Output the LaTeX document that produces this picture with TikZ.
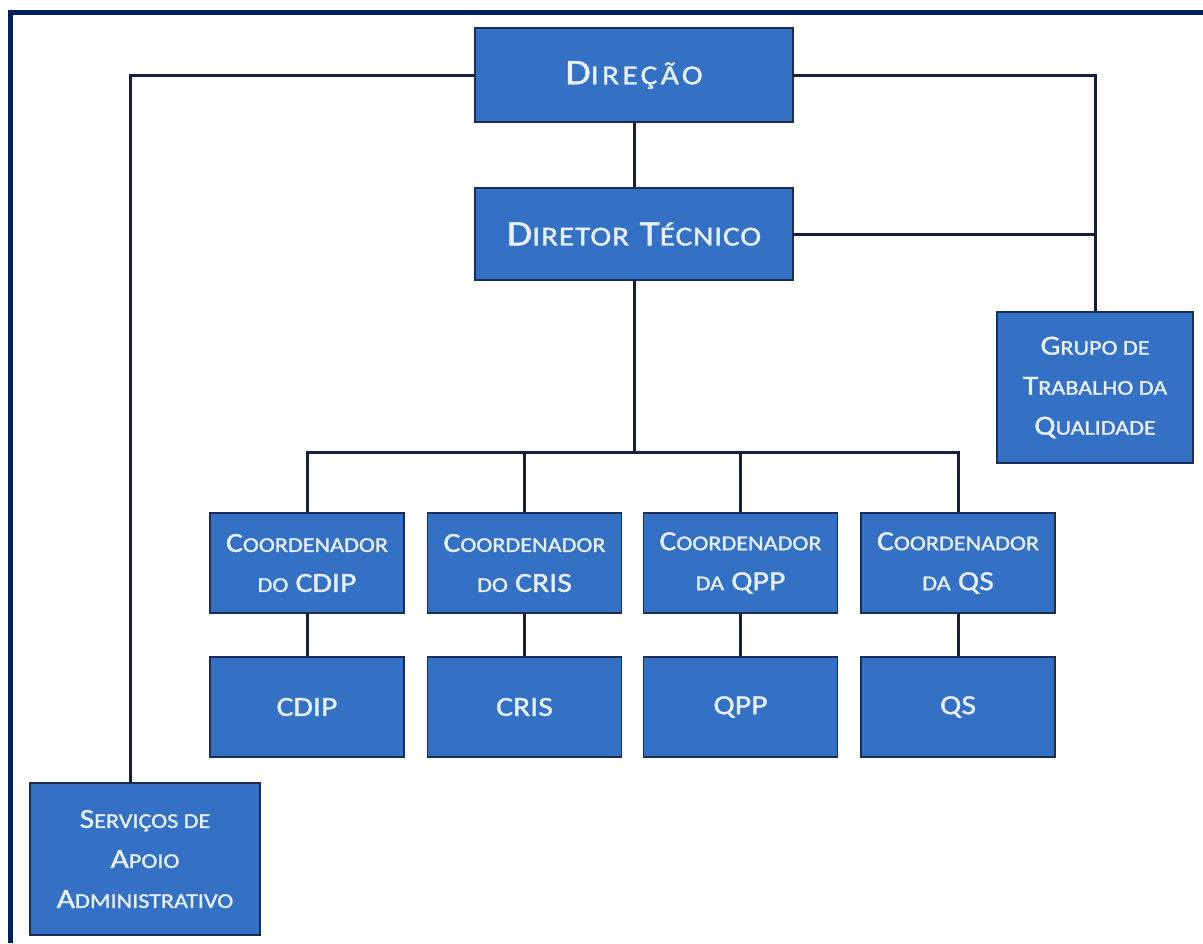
\documentclass[tikz,border=0pt]{standalone}
\usepackage{fontspec}
\setmainfont{Carlito}
\newfontfamily\fMain{Carlito}[FakeStretch=1.15,FakeBold=1.2]
\newfontfamily\fMainS{Carlito}[FakeStretch=1.15,FakeBold=1.2,Scale=0.76]
\newfontfamily\fTop{Carlito}[FakeStretch=1.15,FakeBold=1.2,LetterSpace=3]
\newfontfamily\fTopS{Carlito}[FakeStretch=1.15,FakeBold=1.2,LetterSpace=3,Scale=0.76]
\newfontfamily\fDir{Carlito}[FakeStretch=1.15,FakeBold=1.2,LetterSpace=12]
\newfontfamily\fDirS{Carlito}[FakeStretch=1.15,FakeBold=1.2,LetterSpace=12,Scale=0.76]
\let\smfam\relax
\newcommand\smc[1]{{\smfam #1}}
\definecolor{boxblue}{RGB}{52,113,196}
\definecolor{boxline}{RGB}{28,45,85}
\definecolor{boxtext}{RGB}{232,240,252}
\definecolor{linecol}{RGB}{22,32,60}
\definecolor{framecol}{RGB}{0,32,96}
\tikzset{
  box/.style={draw=boxline, fill=boxblue, line width=0.8pt, text=boxtext,
    align=center, inner sep=0pt, rectangle},
  mainfont/.style={font={\fMain\fontsize{13.8}{20}\selectfont\let\smfam\fMainS}},
  topfont/.style={font={\fTop\fontsize{18}{20}\selectfont\let\smfam\fTopS}},
  dirfont/.style={font={\fDir\fontsize{18}{20}\selectfont\let\smfam\fDirS}},
  coordbox/.style={box, mainfont, minimum width=97pt, minimum height=50pt},
  unitbox/.style={box, mainfont, minimum width=97pt, minimum height=50pt},
  conn/.style={draw=linecol, line width=1.5pt},
}
\begin{document}
\begin{tikzpicture}[x=0.5pt, y=-0.5pt]
\useasboundingbox (0,0) rectangle (1203,943);
\fill[white] (0,0) rectangle (1203,943);
% frame
\draw[framecol, line width=2.5pt] (10.5,943) -- (10.5,12) -- (1203,12);

% nodes
\node[box, dirfont, minimum width=159pt, minimum height=47pt] (dir) at (634,75) {D\smc{IREÇÃO}};
\node[box, topfont, minimum width=159pt, minimum height=46pt] (dt) at (634,234) {D\smc{IRETOR} T\smc{ÉCNICO}};
\node[box, mainfont, minimum width=98pt, minimum height=75.5pt] (grp) at (1095,387.5) {G\smc{RUPO DE}\\T\smc{RABALHO DA}\\Q\smc{UALIDADE}};
\node[box, mainfont, minimum width=115pt, minimum height=76pt] (serv) at (145,859) {S\smc{ERVIÇOS DE}\\A\smc{POIO}\\A\smc{DMINISTRATIVO}};

\node[coordbox] (c1) at (307,563) {C\smc{OORDENADOR}\\\smc{DO} CDIP};
\node[coordbox] (c2) at (524.5,563) {C\smc{OORDENADOR}\\\smc{DO} CRIS};
\node[coordbox] (c3) at (740.5,563) {C\smc{OORDENADOR}\\\smc{DA} QPP};
\node[coordbox] (c4) at (958,563) {C\smc{OORDENADOR}\\\smc{DA} QS};

\node[unitbox] (u1) at (307,707) {CDIP};
\node[unitbox] (u2) at (524.5,707) {CRIS};
\node[unitbox] (u3) at (740.5,707) {QPP};
\node[unitbox] (u4) at (958,707) {QS};

\coordinate (bus) at (634,452);

% connectors
\draw[conn] (dir.west) -| ([xshift=-7.5pt]serv.north);
\draw[conn] (dir.east) -| (grp.north);
\draw[conn] (dt.east) -- (dt.east -| grp.north);
\draw[conn] (dir.south) -- (dt.north);
\draw[conn] (dt.south) -- (bus);
\draw[conn] (c1.north) |- (bus) -| (c4.north);
\draw[conn] (c2.north) -- (c2.north |- bus);
\draw[conn] (c3.north) -- (c3.north |- bus);
\draw[conn] (c1.south) -- (u1.north);
\draw[conn] (c2.south) -- (u2.north);
\draw[conn] (c3.south) -- (u3.north);
\draw[conn] (c4.south) -- (u4.north);
\end{tikzpicture}
\end{document}
